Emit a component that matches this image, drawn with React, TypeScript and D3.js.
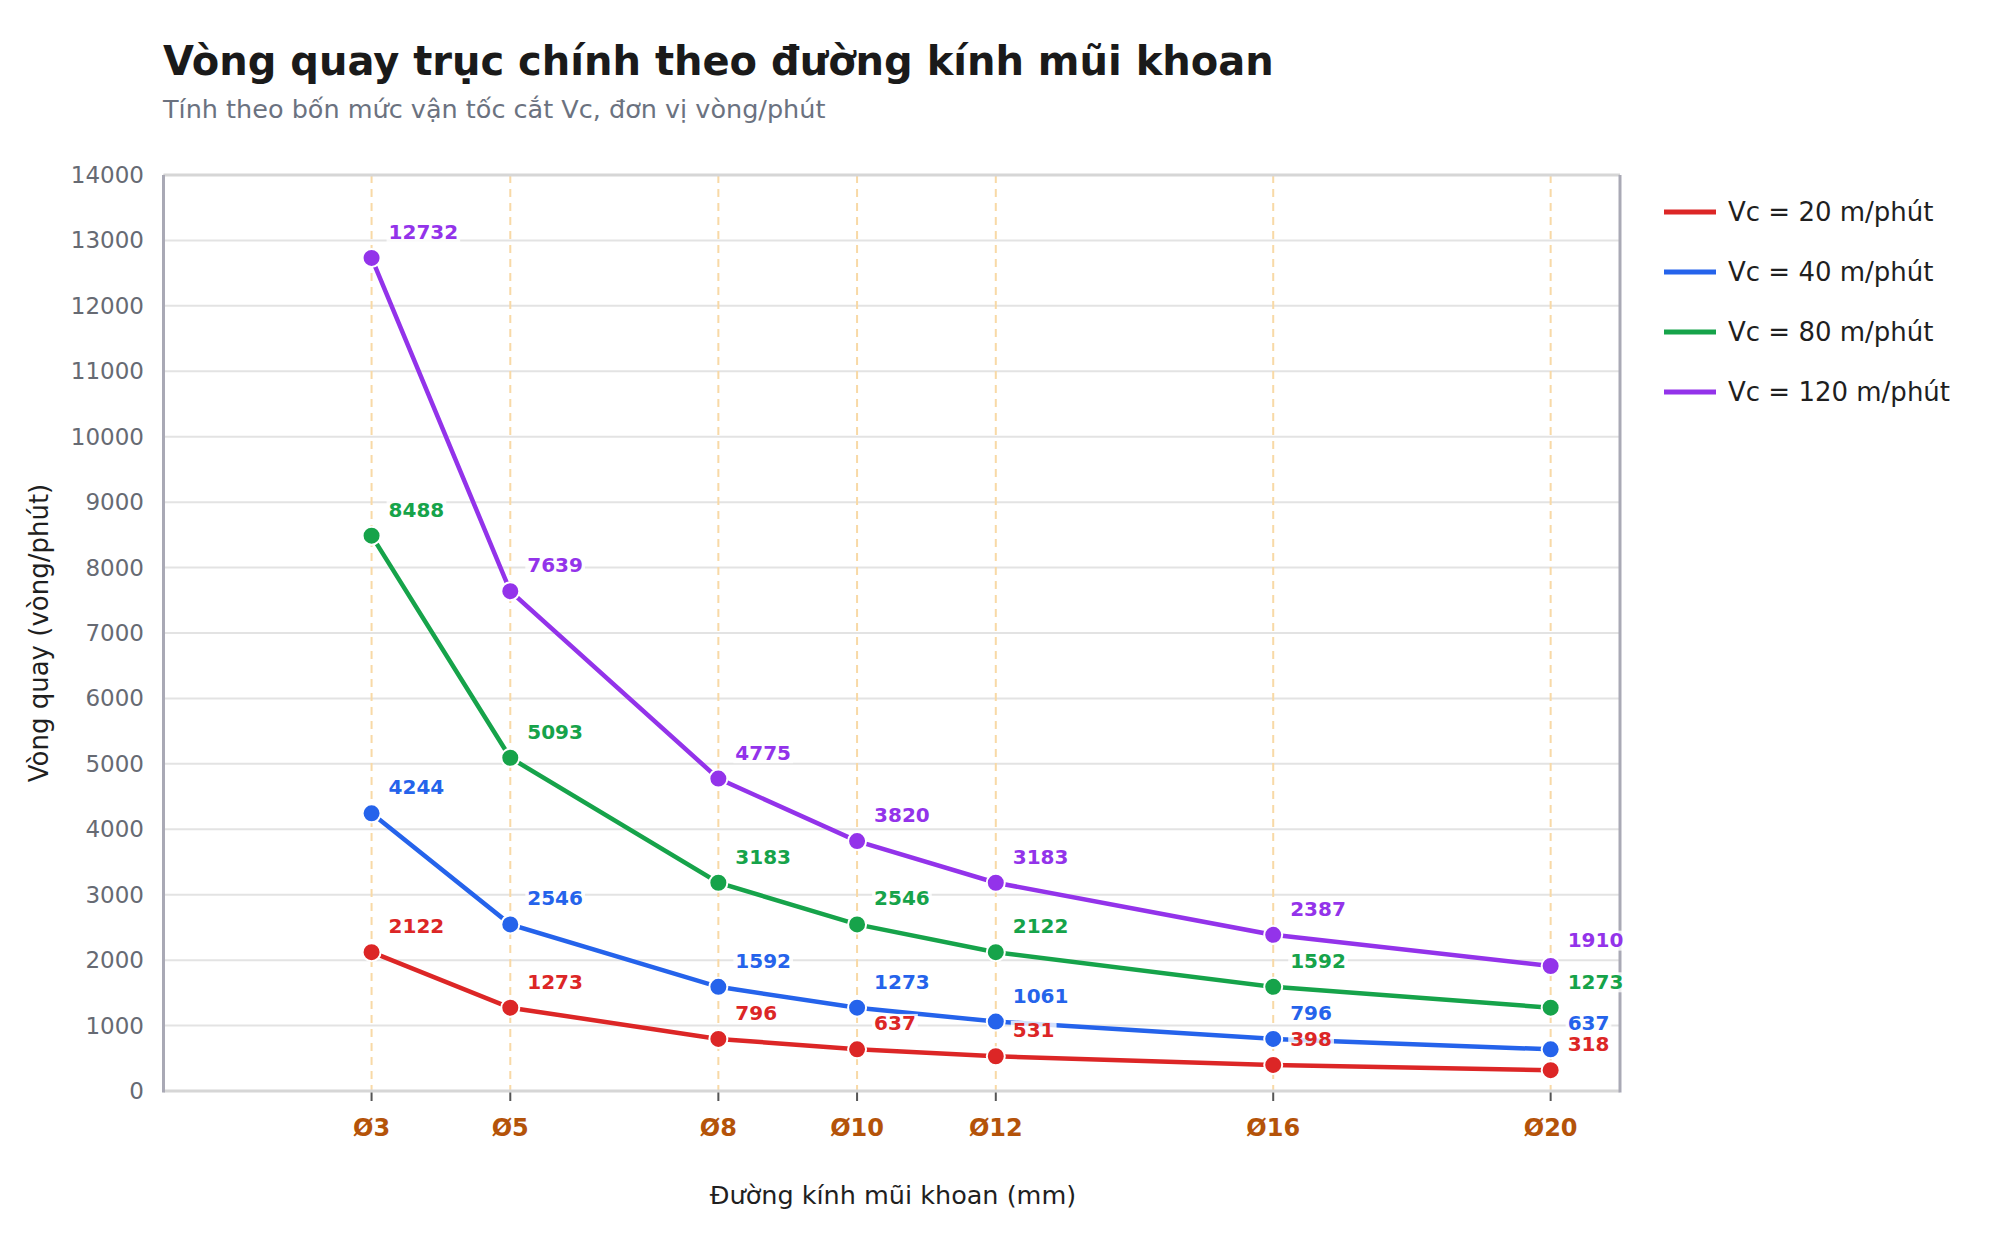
import React from "react";
import * as d3 from "d3";

const diameters = [3, 5, 8, 10, 12, 16, 20];
const tickLabels = ["Ø3", "Ø5", "Ø8", "Ø10", "Ø12", "Ø16", "Ø20"];
const vc20 = [2122, 1273, 796, 637, 531, 398, 318];
const vc40 = [4244, 2546, 1592, 1273, 1061, 796, 637];
const vc80 = [8488, 5093, 3183, 2546, 2122, 1592, 1273];
const vc120 = [12732, 7639, 4775, 3820, 3183, 2387, 1910];
const seriesNames = ["Vc = 20 m/phút", "Vc = 40 m/phút", "Vc = 80 m/phút", "Vc = 120 m/phút"];
const seriesColors = ["#dc2626", "#2563eb", "#16a34a", "#9333ea"];
const yTicks = d3.range(0, 14001, 1000);

const FONT = "'DejaVu Sans', sans-serif";

const App = () => {
  const width = 2000,
    height = 1240;
  const margin = { left: 163.5, right: 1620, top: 175, bottom: 1091 };

  const x = d3.scaleLinear().domain([0, 21]).range([margin.left, margin.right]);
  const y = d3.scaleLinear().domain([0, 14000]).range([margin.bottom, margin.top]);

  const allSeries = [vc20, vc40, vc80, vc120];

  const line = d3
    .line<number>()
    .x((_, i) => x(diameters[i]))
    .y((d) => y(d));

  const labelSize = 20;

  return (
    <svg width={width} height={height} style={{ position: "absolute", left: 0, top: 0, background: "#fff" }} fontFamily={FONT}>
      {/* title */}
      <text x={163} y={75} fontSize={40} fontWeight="bold" fill="#1a1a1a">
        Vòng quay trục chính theo đường kính mũi khoan
      </text>
      <text x={163} y={118} fontSize={25.5} fill="#6b7280">
        Tính theo bốn mức vận tốc cắt Vc, đơn vị vòng/phút
      </text>

      {/* horizontal grid */}
      {yTicks.map((t) => (
        <line key={"g" + t} x1={margin.left} x2={margin.right} y1={y(t)} y2={y(t)} stroke="#e3e3e3" strokeWidth={2} />
      ))}
      {/* vertical dashed guides */}
      {diameters.map((d) => (
        <line
          key={"v" + d}
          x1={x(d)}
          x2={x(d)}
          y1={margin.top}
          y2={margin.bottom}
          stroke="#f8d9a6"
          strokeWidth={2}
          strokeDasharray="8,6"
        />
      ))}

      {/* frame */}
      <line x1={margin.left} x2={margin.right} y1={margin.top} y2={margin.top} stroke="#d6d6d6" strokeWidth={3} />
      <line x1={margin.left} x2={margin.right} y1={margin.bottom} y2={margin.bottom} stroke="#d6d6d6" strokeWidth={3} />
      <line x1={margin.left} x2={margin.left} y1={margin.top} y2={margin.bottom + 1.5} stroke="#a9a9b5" strokeWidth={3} />
      <line x1={margin.right} x2={margin.right} y1={margin.top} y2={margin.bottom + 1.5} stroke="#a9a9b5" strokeWidth={3} />

      {/* y ticks */}
      {yTicks.map((t) => (
        <text key={"yt" + t} x={144} y={y(t)} dy="0.35em" textAnchor="end" fontSize={23} fill="#666a73">
          {t}
        </text>
      ))}
      {/* x ticks */}
      {diameters.map((d, i) => (
        <g key={"xt" + d}>
          <line x1={x(d)} x2={x(d)} y1={margin.bottom + 1.5} y2={margin.bottom + 10} stroke="#555" strokeWidth={2} />
          <text x={x(d)} y={1136} textAnchor="middle" fontSize={24} fontWeight="bold" fill="#b45309">
            {tickLabels[i]}
          </text>
        </g>
      ))}

      {/* axis titles */}
      <text x={893} y={1204} textAnchor="middle" fontSize={25.5} fill="#1f1f1f">
        Đường kính mũi khoan (mm)
      </text>
      <text
        transform={`translate(48, ${(margin.top + margin.bottom) / 2}) rotate(-90)`}
        textAnchor="middle"
        fontSize={26}
        fill="#1f1f1f"
      >
        Vòng quay (vòng/phút)
      </text>

      {/* lines */}
      {allSeries.map((s, k) => (
        <path key={"l" + k} d={line(s) || ""} fill="none" stroke={seriesColors[k]} strokeWidth={4.5} />
      ))}
      {/* markers */}
      {allSeries.map((s, k) =>
        s.map((v, i) => (
          <circle
            key={"c" + k + "-" + i}
            cx={x(diameters[i])}
            cy={y(v)}
            r={9}
            fill={seriesColors[k]}
            stroke="#fff"
            strokeWidth={2}
          />
        ))
      )}
      {/* value labels */}
      {allSeries.map((s, k) =>
        s.map((v, i) => {
          const tx = x(diameters[i]) + 17;
          const ty = y(v) - 19;
          const w = String(v).length * labelSize * 0.696;
          return (
            <g key={"t" + k + "-" + i}>
              <rect x={tx - 2} y={ty - labelSize * 0.82} width={w + 4} height={labelSize * 1.0} fill="#fff" opacity={0.8} />
              <text x={tx} y={ty} fontSize={labelSize} fontWeight="bold" fill={seriesColors[k]}>
                {v}
              </text>
            </g>
          );
        })
      )}

      {/* legend */}
      {seriesNames.map((n, k) => (
        <g key={"lg" + k} transform={`translate(1664, ${212 + k * 60})`}>
          <line x1={0} x2={52} y1={0} y2={0} stroke={seriesColors[k]} strokeWidth={5} />
          <text x={64} y={0} dy="0.35em" fontSize={26} fill="#1f1f1f">
            {n}
          </text>
        </g>
      ))}
    </svg>
  );
};

export default App;
